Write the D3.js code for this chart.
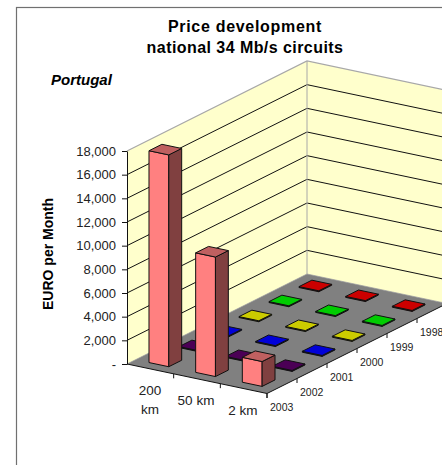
<!DOCTYPE html>
<html><head><meta charset="utf-8">
<script src="https://cdn.jsdelivr.net/npm/d3@7"></script>
<style>html,body{margin:0;padding:0;background:#fff;overflow:hidden}svg{display:block}text{font-family:"Liberation Sans",Arial,sans-serif;fill:#222}</style>
</head><body><svg id="c" width="442" height="465"></svg>
<script>
const categories = ["200 km", "50 km", "2 km"];
const categoryLines = [["200", "km"], ["50 km"], ["2 km"]];
const years = ["2003", "2002", "2001", "2000", "1999", "1998"];
const yearColors = ["#ff8080", "#4b0055", "#0000d8", "#cccc00", "#00cc00", "#cc0000"];
const values2003 = [17900, 10100, 2100];
const values2002 = [80, 80, 80];
const values2001 = [80, 80, 80];
const values2000 = [80, 80, 80];
const values1999 = [80, 80, 80];
const values1998 = [80, 80, 80];
const seriesValues = [values2003, values2002, values2001, values2000, values1999, values1998];
const valueTicks = [0, 2000, 4000, 6000, 8000, 10000, 12000, 14000, 16000, 18000];

const svg = d3.select("#c");
svg.append("rect").attr("x", 16.5).attr("y", 7.5).attr("width", 600).attr("height", 600)
  .attr("fill", "#fff").attr("stroke", "#707070").attr("stroke-width", 1.2);

// oblique projection through scales
const catX = d3.scaleLinear().domain([0, 3]).range([0, 140]);
const catY = d3.scaleLinear().domain([0, 3]).range([0, 29.5]);
const serX = d3.scaleLinear().domain([0, 6]).range([0, 180]);
const serY = d3.scaleLinear().domain([0, 6]).range([0, -90]);
const val = d3.scaleLinear().domain([0, 18000]).range([364, 151]);
const P = (c, s, v) => [127 + catX(c) + serX(s), val(v) + catY(c) + serY(s)];
const poly = pts => pts.map(p => p.join(",")).join(" ");
const maxV = 18000;

// walls
svg.append("polygon").attr("points", poly([P(0,0,0), P(0,6,0), P(0,6,maxV), P(0,0,maxV)])).attr("fill", "#ffffcc");
svg.append("polygon").attr("points", poly([P(0,6,0), P(3,6,0), P(3,6,maxV), P(0,6,maxV)])).attr("fill", "#ffffcc");
// floor
svg.append("polygon").attr("points", poly([P(0,0,0), P(3,0,0), P(3,6,0), P(0,6,0)])).attr("fill", "#808080");
// gridlines
valueTicks.forEach(t => {
  const top = t === maxV;
  if (t === 0) return;
  svg.append("polyline").attr("points", poly([P(0,0,t), P(0,6,t), P(3,6,t)])).attr("fill", "none")
    .attr("stroke", top ? "#a8a8a8" : "#111").attr("stroke-width", top ? 1.2 : 1);
});
svg.append("line").attr("x1", P(0,6,0)[0]).attr("y1", P(0,6,0)[1]).attr("x2", P(0,6,maxV)[0]).attr("y2", P(0,6,maxV)[1])
  .attr("stroke", "#a8a8a8").attr("stroke-width", 1);
svg.append("polyline").attr("points", poly([P(0,0,0), P(0,6,0), P(3,6,0)])).attr("fill", "none").attr("stroke", "#999").attr("stroke-width", .7);

// bars, back to front, left to right
const lo = 0.288, hi = 0.712, slo = 0.285, shi = 0.715;
years.map((y, j) => j).reverse().forEach(j => {
  categories.forEach((cat, i) => {
    const v = seriesValues[j][i];
    const c0 = i + lo, c1 = i + hi, s0 = j + slo, s1 = j + shi;
    const g = svg.append("g").attr("stroke", "#111").attr("stroke-width", 1).attr("stroke-linejoin", "round");
    const base = yearColors[j];
    const col = d3.color(base);
    const dark = d3.rgb(col.r * .5, col.g * .5, col.b * .5).formatHex();
    const mid = d3.rgb(col.r * .75, col.g * .75, col.b * .75).formatHex();
    const tall = v > 1000;
    g.append("polygon").attr("points", poly([P(c0,s0,0), P(c1,s0,0), P(c1,s0,v), P(c0,s0,v)])).attr("fill", tall ? base : dark);
    g.append("polygon").attr("points", poly([P(c1,s0,0), P(c1,s1,0), P(c1,s1,v), P(c1,s0,v)])).attr("fill", dark);
    g.append("polygon").attr("points", poly([P(c0,s0,v), P(c1,s0,v), P(c1,s1,v), P(c0,s1,v)])).attr("fill", tall ? mid : base);
  });
});

// floor front edges and ticks
svg.append("polyline").attr("points", poly([P(0,0,0), P(3,0,0), P(3,6,0)])).attr("fill", "none").attr("stroke", "#111").attr("stroke-width", 1);
d3.range(1, 4).forEach(c => {
  const p = P(c, 0, 0);
  svg.append("line").attr("x1", p[0]).attr("y1", p[1]).attr("x2", p[0]).attr("y2", p[1] + 4.5).attr("stroke", "#111");
});
years.forEach((y, j) => {
  const p = P(3, j, 0);
  svg.append("line").attr("x1", p[0]).attr("y1", p[1]).attr("x2", p[0]).attr("y2", p[1] + 4.5).attr("stroke", "#111");
  svg.append("text").attr("x", p[0] + 3).attr("y", p[1] + 17).attr("font-size", 10.5).text(y);
});

// value axis
const axis = d3.axisLeft(val).tickValues(valueTicks).tickSize(5).tickSizeOuter(0).tickPadding(6)
  .tickFormat(d => d === 0 ? "-" : d3.format(",")(d));
const ax = svg.append("g").attr("transform", "translate(127,0)").call(axis);
ax.selectAll("text").style("font-family", '"Liberation Sans",Arial,sans-serif').attr("font-size", 13).style("fill", "#222");
ax.selectAll("path,line").attr("stroke", "#111");

// category labels
const catLabelPos = [[150, 395], [196, 405], [243, 415]];
categoryLines.forEach((lines, i) => {
  lines.forEach((t, k) => {
    svg.append("text").attr("x", catLabelPos[i][0]).attr("y", catLabelPos[i][1] + k * 19)
      .attr("text-anchor", "middle").attr("font-size", 13.5).text(t);
  });
});

// titles
svg.append("text").attr("x", 245).attr("y", 32).attr("text-anchor", "middle").attr("font-size", 16).attr("font-weight", "bold").style("fill", "#000").style("letter-spacing", ".7px").text("Price development");
svg.append("text").attr("x", 245).attr("y", 53).attr("text-anchor", "middle").attr("font-size", 16).attr("font-weight", "bold").style("fill", "#000").style("letter-spacing", ".44px").text("national 34 Mb/s circuits");
svg.append("text").attr("x", 51).attr("y", 85).attr("font-size", 15).attr("font-weight", "bold").attr("font-style", "italic").style("fill", "#000").text("Portugal");
svg.append("text").attr("transform", "translate(53,254) rotate(-90)").attr("text-anchor", "middle").attr("font-size", 14).attr("font-weight", "bold").style("fill", "#000").text("EURO per Month");
</script></body></html>
